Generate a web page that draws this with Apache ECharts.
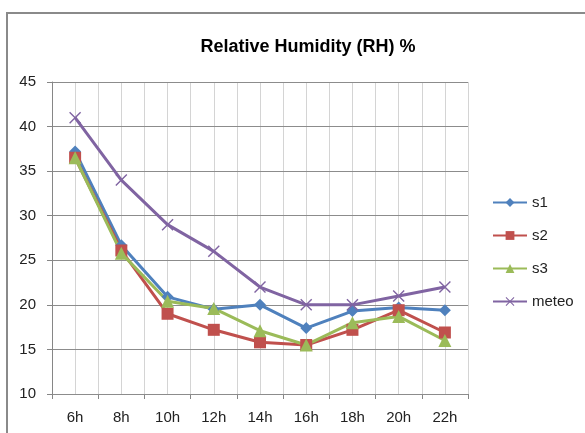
<!DOCTYPE html>
<html><head><meta charset="utf-8">
<script src="https://cdn.jsdelivr.net/npm/echarts@6/dist/echarts.min.js"></script>
<style>html,body{margin:0;padding:0;background:#fff}#c{width:585px;height:433px}</style>
</head><body><div id="c"></div>
<script>
var categories = ['6h','8h','10h','12h','14h','16h','18h','20h','22h'];
var s1 = [37.2, 26.7, 20.9, 19.5, 20.0, 17.4, 19.3, 19.7, 19.4];
var s2 = [36.5, 26.1, 19.0, 17.2, 15.8, 15.5, 17.2, 19.4, 16.9];
var s3 = [36.5, 25.8, 20.4, 19.6, 17.1, 15.5, 18.0, 18.7, 16.0];
var meteo = [41, 34, 29, 26, 22, 20, 20, 21, 22];
var yMin = 10, yMax = 45, yStep = 5;

var crossPath = 'path://M0,1 L1,0 L6,5 L11,0 L12,1 L7,6 L12,11 L11,12 L6,7 L1,12 L0,11 L5,6 Z';
var font = 'Liberation Sans, Arial, sans-serif';
function ser(name, data, color, symbol, size) {
  return {
    name: name, type: 'line', data: data, xAxisIndex: 0,
    symbol: symbol, symbolSize: size, showAllSymbol: true,
    lineStyle: { color: color, width: 3 },
    itemStyle: { color: color },
    emphasis: { disabled: true }, animation: false
  };
}
var chart = echarts.init(document.getElementById('c'));
chart.setOption({
  animation: false,
  graphic: [{ type: 'rect', shape: { x: 7, y: 13, width: 620, height: 460 }, style: { fill: 'none', stroke: '#8a8a8a', lineWidth: 2 }, z: -1 }],
  title: {
    text: 'Relative Humidity (RH) %', left: 303, top: 33, textAlign: 'center',
    textStyle: { fontFamily: font, fontWeight: 'bold', fontSize: 18, color: '#000' }
  },
  legend: {
    orient: 'vertical', left: 487, top: 190, itemWidth: 34, itemHeight: 11, itemGap: 18,
    textStyle: { fontFamily: font, fontSize: 15, color: '#222' },
    data: ['s1','s2','s3','meteo']
  },
  grid: { left: 52, top: 82, right: 117, bottom: 39, containLabel: false },
  xAxis: [{
    type: 'category', data: categories, boundaryGap: true,
    axisLine: { lineStyle: { color: '#868686', width: 1 } },
    axisTick: { show: true, length: 5, interval: 0, lineStyle: { color: '#868686' } },
    axisLabel: { margin: 16, interval: 0, fontFamily: font, fontSize: 15, color: '#222' },
    splitLine: { show: false }
  }, {
    type: 'value', min: 0, max: 18, interval: 1, position: 'bottom',
    axisLine: { show: false }, axisTick: { show: false }, axisLabel: { show: false },
    splitLine: { show: true, lineStyle: { color: '#d4d4d4', width: 1 } }
  }],
  yAxis: {
    type: 'value', min: yMin, max: yMax, interval: yStep,
    axisLine: { show: true, lineStyle: { color: '#868686' } },
    axisTick: { show: true, length: 5, lineStyle: { color: '#868686' } },
    axisLabel: { margin: 16, fontFamily: font, fontSize: 15, color: '#222' },
    splitLine: { show: true, lineStyle: { color: '#8c8c8c', width: 1 } },
    z: 3
  },
  series: [
    ser('s1', s1, '#4F81BD', 'diamond', 12),
    ser('s2', s2, '#C0504D', 'rect', 12),
    ser('s3', s3, '#9BBB59', 'triangle', 13),
    ser('meteo', meteo, '#8064A2', crossPath, 12)
  ]
});
</script></body></html>
